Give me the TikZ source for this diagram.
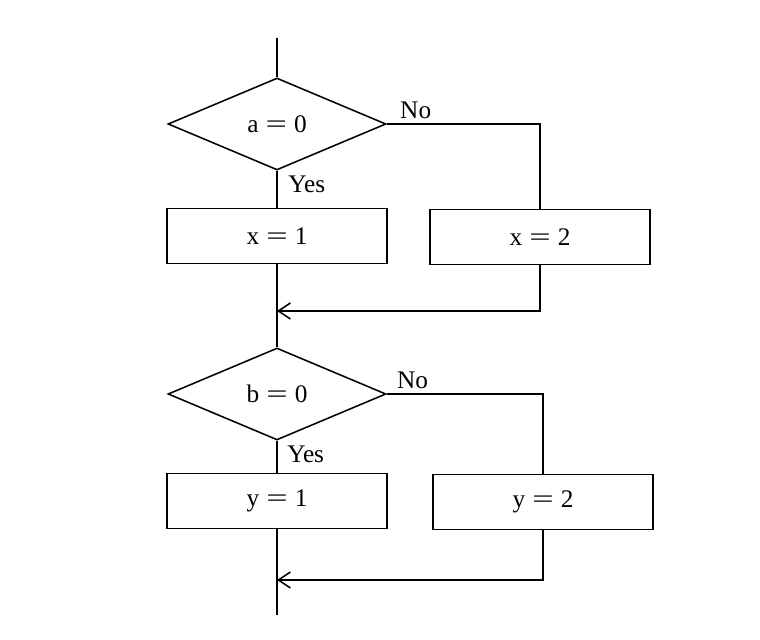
\documentclass[tikz,border=0pt]{standalone}
\usepackage{fontspec}
\usepackage{graphicx}
\setmainfont{Liberation Serif}
\usetikzlibrary{shapes.geometric, arrows.meta, positioning}
\newcommand{\assign}[2]{#1\hspace{0.28em}\scalebox{1.5}[1]{=}\hspace{0.28em}#2}

\begin{document}
\begin{tikzpicture}[line width=1.1pt, every node/.style={font=\fontsize{18}{21}\selectfont},
  decision/.style={diamond, draw, minimum width=5.45cm, minimum height=2.3cm, inner sep=0pt},
  process/.style={rectangle, draw, minimum width=5.5cm, minimum height=1.375cm},
  merge/.style={-{Straight Barb[length=3mm,width=4mm]}}]
  \useasboundingbox (0,0) rectangle (19,16);

  % First decision
  \coordinate (start) at (6.925,15.05);
  \node[decision] (a) at (6.925,12.9) {\assign{a}{0}};
  \node[above right=0cm and 0.2cm of a.east] (noa) {No};
  \node[below right=0cm and 0.15cm of a.south] (yesa) {Yes};
  \node[process] (x1) at (6.925,10.1) {\assign{x}{1}};
  \node[process] (x2) at (13.5,10.075) {\assign{x}{2}};
  \coordinate (m1) at (6.925,8.225);

  % Second decision
  \node[decision] (b) at (6.925,6.15) {\assign{b}{0}};
  \node[above right=0cm and 0.12cm of b.east] (nob) {No};
  \node[below right=0cm and 0.12cm of b.south] (yesb) {Yes};
  \node[process] (y1) at (6.925,3.475) {\assign{y}{1}};
  \node[process] (y2) at (13.575,3.45) {\assign{y}{2}};
  \coordinate (m2) at (6.925,1.5);
  \coordinate (stop) at (6.925,0.625);

  % Connectors
  \draw (start) -- (a.north);
  \draw (a.south) -- (x1.north);
  \draw (a.east) -| (x2.north);
  \draw (x1.south) -- (b.north);
  \draw[merge] (x2.south) |- (m1);
  \draw (b.south) -- (y1.north);
  \draw (b.east) -| (y2.north);
  \draw (y1.south) -- (stop);
  \draw[merge] (y2.south) |- (m2);
\end{tikzpicture}
\end{document}
